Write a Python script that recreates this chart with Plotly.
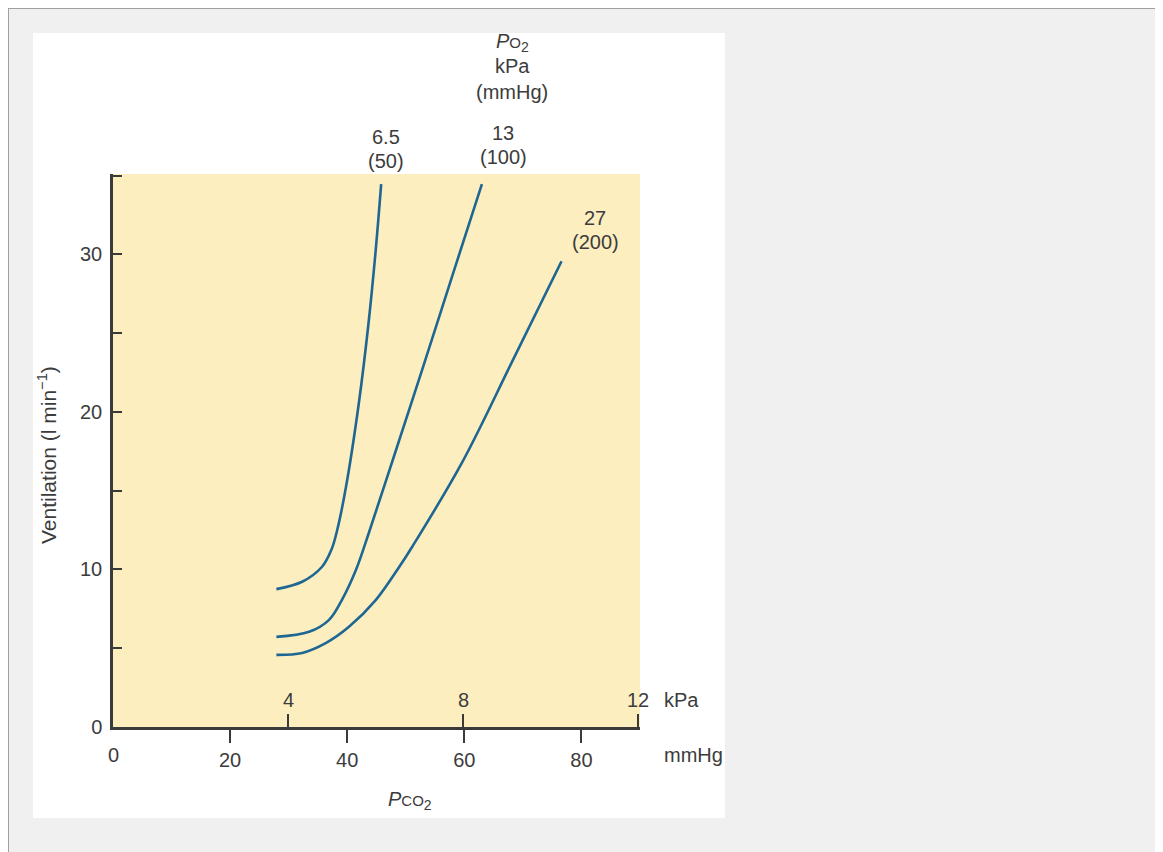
import plotly.graph_objects as go

# ---- data ----
pco2_65 = [27.9, 32.3, 35.7, 37.3, 38.3, 39.8, 42.0, 43.6, 44.8, 45.8]
vent_65 = [8.75, 9.22, 10.17, 11.25, 12.52, 15.26, 20.6, 25.5, 30.0, 34.46]

pco2_13 = [27.9, 33.5, 36.9, 39.1, 41.5, 43.7, 48.0, 53.0, 58.0, 63.0]
vent_13 = [5.72, 6.04, 6.8, 8.07, 9.98, 12.33, 17.2, 22.9, 28.7, 34.46]

pco2_27 = [27.9, 32.3, 36.4, 40.3, 44.9, 48.9, 51.1, 59.6, 68.1, 76.6]
vent_27 = [4.58, 4.70, 5.34, 6.36, 8.07, 10.17, 11.44, 16.78, 23.14, 29.56]

mmhg_ticks = [0, 20, 40, 60, 80]
kpa_ticks = [4, 8, 12]
vent_ticks = [0, 5, 10, 15, 20, 25, 30, 35]
vent_labels = ["0", "", "10", "", "20", "", "30", ""]

curve_labels = [("6.5", "(50)"), ("13", "(100)"), ("27", "(200)")]

# ---- geometry (reference page pixels; page body adds an 8px margin) ----
OFF = 8
W, H = 1163 - OFF, 852 - OFF
L, R, T, B = 113, 640, 174, 727  # plot area in page pixels


def px(x):
    return (x - L) / (R - L)


def py(y):
    return (B - y) / (B - T)


LINE = "#1d6792"
TXT = "#3c3c3c"
AX = "#3a3a3a"
FONT = "Liberation Sans, Arial, sans-serif"
FS = 20

fig = go.Figure()
for xs, ys in [(pco2_65, vent_65), (pco2_13, vent_13), (pco2_27, vent_27)]:
    fig.add_trace(go.Scatter(x=xs, y=ys, mode="lines",
                             line=dict(color=LINE, width=2.6, shape="spline", smoothing=1.0),
                             showlegend=False, hoverinfo="skip"))
# empty trace to carry the kPa axis
fig.add_trace(go.Scatter(x=[None], y=[None], xaxis="x2", showlegend=False, hoverinfo="skip"))

shapes = [
    dict(type="rect", xref="paper", yref="paper", x0=px(OFF), x1=px(1175), y0=py(OFF), y1=py(870),
         fillcolor="#f0f0f0", line=dict(color="#a0a0a0", width=2), layer="below"),
    dict(type="rect", xref="paper", yref="paper", x0=px(33), x1=px(725), y0=py(33), y1=py(818),
         fillcolor="white", line=dict(width=0), layer="below"),
    dict(type="rect", xref="paper", yref="paper", x0=0, x1=1, y0=0, y1=1,
         fillcolor="#fdeec0", line=dict(width=0), layer="below"),
]

ann = []


def text(x, y, s, size=FS, xanchor="center", xref="paper", **kw):
    ann.append(dict(xref=xref, yref="paper", x=(px(x) if xref == "paper" else x), y=py(y), text=s,
                    showarrow=False, xanchor=xanchor, yanchor="middle",
                    font=dict(size=size, color=TXT, family=FONT), **kw))


text(512, 43, "<i>P</i><span style='font-size:15px'>O</span><sub>2</sub>")
text(512, 66, "kPa")
text(512, 92, "(mmHg)")
for (a, b), (x, y) in zip(curve_labels, [(386, 137), (503, 133), (595, 218)]):
    text(x, y, a)
    text(x, y + 24, b)
for k in kpa_ticks:
    text(k, 700, str(k), xref="x2")
# the 0 mmHg label has no tick mark in the reference
text(mmhg_ticks[0], 755, str(mmhg_ticks[0]), xref="x")
text(662, 700, "kPa", xanchor="left")
text(662, 755, "mmHg", xanchor="left")
text(410, 800, "<i>P</i><span style='font-size:15px'>CO</span><sub>2</sub>")
text(47, 455, "Ventilation (l min<sup>−1</sup>)", size=21, textangle=-90)

fig.update_layout(
    width=W, height=H,
    margin=dict(l=L - OFF, r=W - (R - OFF), t=T - OFF, b=H - (B - OFF), pad=0),
    paper_bgcolor="white", plot_bgcolor="rgba(0,0,0,0)",
    font=dict(family=FONT, color=TXT, size=FS),
    shapes=shapes, annotations=ann,
    xaxis=dict(range=[0, 90], tickvals=mmhg_ticks[1:], ticks="outside", ticklen=13, tickwidth=2,
               tickcolor=AX, showline=True, linecolor=AX, linewidth=2.5,
               showgrid=False, zeroline=False, tickfont=dict(size=FS, color=TXT),
               ticklabelstandoff=0),
    xaxis2=dict(range=[0, 12.04], overlaying="x", anchor="y", side="bottom", tickvals=kpa_ticks,
                ticks="inside", ticklen=13, tickwidth=2, tickcolor=AX, showticklabels=False,
                showline=False, showgrid=False, zeroline=False),
    yaxis=dict(range=[0, 35.1], tickvals=vent_ticks, ticktext=vent_labels, ticks="inside",
               ticklen=9, tickwidth=2, tickcolor=AX, showline=True, linecolor=AX,
               linewidth=2.5, showgrid=False, zeroline=False, tickfont=dict(size=FS, color=TXT),
               ticklabelstandoff=4, ticklabeloverflow="allow"),
)

fig.write_html("out.html")
